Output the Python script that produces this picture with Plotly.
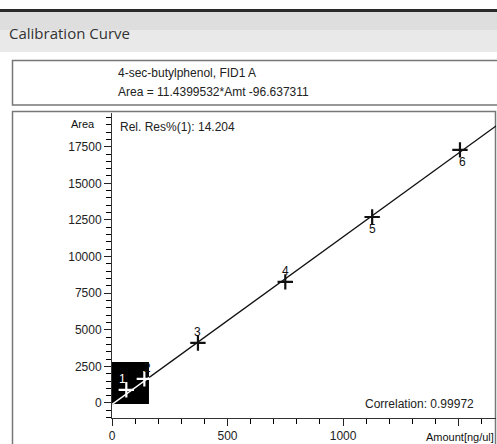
import plotly.graph_objects as go

# ---- data ----
levels = ["1", "2", "3", "4", "5", "6"]
amount = [62, 140, 372, 750, 1126, 1506]
area = [900, 1650, 4100, 8270, 12700, 17280]
slope = 11.4399532
intercept = -96.637311
line_x = [0, 1662]
inset_x = [0, 160]
title_text = "Calibration Curve"
compound_text = "4-sec-butylphenol, FID1 A"
equation_text = "Area = 11.4399532*Amt -96.637311"
relres_text = "Rel. Res%(1): 14.204"
corr_text = "Correlation: 0.99972"

W, H = 497, 444
L, R, T, B = 112, 1, 113, 26
PW, PH = W - L - R, H - T - B
XR = [0, 1662]
YR = [-1025, 19800]


def px(x):
    return (x - L) / PW


def py(y):
    return (H - B - y) / PH


FONT = "Liberation Sans, Arial, sans-serif"

fig = go.Figure()

fig.add_trace(go.Scatter(
    x=line_x, y=[slope * v + intercept for v in line_x],
    mode="lines", line=dict(color="#111", width=1.3),
    hoverinfo="skip", showlegend=False))
fig.add_trace(go.Scatter(
    x=inset_x, y=[slope * v + intercept for v in inset_x],
    mode="lines", line=dict(color="white", width=1.3),
    hoverinfo="skip", showlegend=False))

marker_colors = ["white", "white", "#111", "#111", "#111", "#111"]
fig.add_trace(go.Scatter(
    x=amount, y=area, mode="markers",
    marker=dict(symbol="cross-thin", size=11, color=marker_colors,
                line=dict(color=marker_colors, width=2.2)),
    showlegend=False))

label_pos = ["top left", "top center", "top center", "top center",
             "bottom center", "bottom center"]
label_col = ["white", "#111", "#111", "#111", "#111", "#111"]
for i, lab in enumerate(levels):
    pos = label_pos[i]
    yshift = 11 if pos.startswith("top") else -12
    xshift = -4 if pos == "top left" else (3 if i in (1, 5) else 0)
    fig.add_annotation(x=amount[i], y=area[i], text=lab, showarrow=False,
                       xshift=xshift, yshift=yshift,
                       font=dict(family=FONT, size=12, color=label_col[i]))

shapes = []
shapes.append(dict(type="rect", xref="paper", yref="paper",
                   x0=px(0), x1=px(W), y0=py(52), y1=py(12),
                   fillcolor="#e9e9e9", line=dict(width=0), layer="below"))
shapes.append(dict(type="rect", xref="paper", yref="paper",
                   x0=px(0), x1=px(W), y0=py(30), y1=py(12),
                   fillcolor="#dedede", line=dict(width=0), layer="below"))
shapes.append(dict(type="rect", xref="paper", yref="paper",
                   x0=px(0), x1=px(W), y0=py(12), y1=py(9),
                   fillcolor="#2a2a2a", line=dict(width=0), layer="below"))
shapes.append(dict(type="rect", xref="paper", yref="paper",
                   x0=px(12.5), x1=px(W + 5), y0=py(105), y1=py(60.5),
                   line=dict(color="#777", width=1.5), layer="below"))
shapes.append(dict(type="rect", xref="paper", yref="paper",
                   x0=px(12.5), x1=px(495.5), y0=py(H + 5), y1=py(111.5),
                   line=dict(color="#777", width=1.5), layer="below"))
shapes.append(dict(type="rect", xref="x", yref="y",
                   x0=0, x1=160, y0=-70, y1=2800,
                   fillcolor="black", line=dict(width=0), layer="below"))

annotations = [
    dict(text=title_text, x=px(7), y=py(33), xanchor="left", yanchor="middle",
         font=dict(family="Open Sans, Noto Sans, sans-serif", size=15, color="#333")),
    dict(text=compound_text, x=px(116), y=py(73), xanchor="left", yanchor="middle",
         font=dict(family=FONT, size=12, color="#222")),
    dict(text=equation_text, x=px(116), y=py(92), xanchor="left", yanchor="middle",
         font=dict(family=FONT, size=12, color="#222")),
    dict(text=relres_text, x=px(118), y=py(127), xanchor="left", yanchor="middle",
         font=dict(family=FONT, size=12, color="#222")),
    dict(text=corr_text, x=px(476), y=py(404), xanchor="right", yanchor="middle",
         font=dict(family=FONT, size=12, color="#222")),
    dict(text="Area", x=px(97), y=py(124), xanchor="right", yanchor="middle",
         font=dict(family=FONT, size=11, color="#111")),
    dict(text="Amount[ng/ul]", x=px(496), y=py(437), xanchor="right", yanchor="middle",
         font=dict(family=FONT, size=11, color="#111")),
]
for a in annotations:
    a.update(xref="paper", yref="paper", showarrow=False)
    fig.add_annotation(**a)

fig.update_layout(
    width=W, height=H,
    margin=dict(l=L, r=R, t=T, b=B),
    paper_bgcolor="white", plot_bgcolor="white",
    showlegend=False,
    shapes=shapes,
    font=dict(family=FONT, size=12, color="#222"),
    xaxis=dict(range=XR, showgrid=False, zeroline=False,
               showline=True, linecolor="#333", linewidth=1,
               ticks="outside", ticklen=7, tickcolor="#222",
               tickmode="linear", tick0=0, dtick=500, tickformat="d",
               labelalias={"1500": ""},
               minor=dict(ticks="outside", ticklen=5, tickcolor="#000", tickwidth=1,
                          tickmode="linear", tick0=0, dtick=100),
               tickfont=dict(family=FONT, size=12, color="#222")),
    yaxis=dict(range=YR, showgrid=False, zeroline=False,
               showline=True, linecolor="#333", linewidth=1,
               ticks="outside", ticklen=7, tickcolor="#222",
               tickmode="linear", tick0=0, dtick=2500, tickformat="d",
               minor=dict(ticks="outside", ticklen=5, tickcolor="#000", tickwidth=1,
                          tickmode="linear", tick0=0, dtick=500),
               tickfont=dict(family=FONT, size=12, color="#222")),
)

fig.write_html("out.html")
